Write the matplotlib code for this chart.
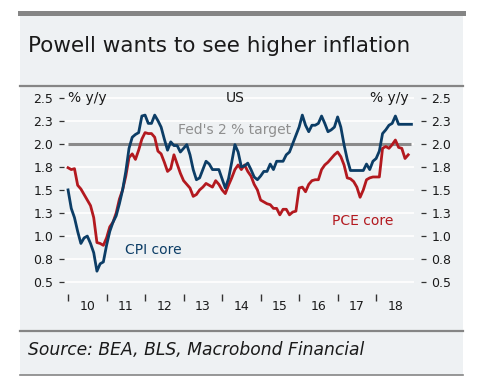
import numpy as np
import matplotlib
matplotlib.use("Agg")
import matplotlib.pyplot as plt
from matplotlib.patches import Rectangle
from matplotlib.lines import Line2D

# ------------------------------
# Data (monthly, Jan 2010 onwards, % y/y)
# ------------------------------
cpi_core = [
    1.50, 1.30, 1.20, 1.05, 0.92, 0.98, 1.00, 0.92, 0.82, 0.62, 0.70, 0.72,  # 2010
    0.90, 1.05, 1.15, 1.22, 1.35, 1.50, 1.70, 1.95, 2.07, 2.10, 2.12, 2.30,  # 2011
    2.31, 2.22, 2.22, 2.31, 2.25, 2.18, 2.05, 1.93, 2.02, 1.98, 1.98, 1.91,  # 2012
    1.95, 1.99, 1.88, 1.72, 1.61, 1.63, 1.72, 1.81, 1.78, 1.72, 1.72, 1.72,  # 2013
    1.62, 1.52, 1.62, 1.80, 1.99, 1.91, 1.75, 1.76, 1.79, 1.72, 1.64, 1.61,  # 2014
    1.65, 1.70, 1.70, 1.78, 1.72, 1.81, 1.81, 1.81, 1.88, 1.91, 2.00, 2.09,  # 2015
    2.18, 2.31, 2.20, 2.13, 2.20, 2.20, 2.22, 2.30, 2.22, 2.13, 2.15, 2.18,  # 2016
    2.29, 2.18, 1.99, 1.83, 1.71, 1.71, 1.71, 1.71, 1.71, 1.78, 1.72, 1.81,  # 2017
    1.84, 1.92, 2.11, 2.15, 2.20, 2.22, 2.30, 2.21, 2.21, 2.21, 2.21, 2.21,  # 2018
]
pce_core = [
    1.74, 1.72, 1.73, 1.55, 1.51, 1.45, 1.39, 1.33, 1.20, 0.93, 0.92, 0.90,  # 2010
    0.98, 1.10, 1.15, 1.25, 1.40, 1.50, 1.65, 1.85, 1.89, 1.83, 1.93, 2.05,  # 2011
    2.12, 2.11, 2.11, 2.07, 1.92, 1.89, 1.80, 1.70, 1.73, 1.88, 1.78, 1.68,  # 2012
    1.60, 1.56, 1.52, 1.43, 1.45, 1.50, 1.53, 1.57, 1.55, 1.53, 1.60, 1.56,  # 2013
    1.50, 1.46, 1.55, 1.63, 1.72, 1.77, 1.72, 1.77, 1.70, 1.65, 1.56, 1.50,  # 2014
    1.39, 1.37, 1.35, 1.34, 1.30, 1.30, 1.23, 1.29, 1.29, 1.23, 1.26, 1.27,  # 2015
    1.52, 1.53, 1.48, 1.56, 1.60, 1.61, 1.61, 1.72, 1.77, 1.80, 1.84, 1.88,  # 2016
    1.91, 1.86, 1.77, 1.63, 1.62, 1.59, 1.53, 1.42, 1.50, 1.61, 1.63, 1.64,  # 2017
    1.64, 1.64, 1.95, 1.97, 1.95, 1.99, 2.04, 1.96, 1.95, 1.84, 1.88,        # 2018
]
fed_target = 2.0
year_labels = ['10', '11', '12', '13', '14', '15', '16', '17', '18']
y_ticks = [0.5, 0.75, 1.0, 1.25, 1.5, 1.75, 2.0, 2.25, 2.5]
y_tick_labels = ['0.5', '0.8', '1.0', '1.3', '1.5', '1.8', '2.0', '2.3', '2.5']

# ------------------------------
# Style
# ------------------------------
plt.rcParams['font.family'] = ['DejaVu Sans']
bg = '#eef1f3'
frame_grey = '#858585'
blue = '#0c3d66'
red = '#b3191f'
text_col = '#1a1a1a'

W, H = 480, 390
fig = plt.figure(figsize=(4.8, 3.9), dpi=100)
fig.patch.set_facecolor('white')

def fx(px):
    return px / W

def fy(py):
    return 1 - py / H

# panel background and separator lines
fig.patches.append(Rectangle((fx(20), fy(375)), fx(443), 360 / H, transform=fig.transFigure,
                             facecolor=bg, edgecolor='none', zorder=0))
for ypix, lw in [(12.5, 3.6), (86, 1.6), (331, 1.6), (375, 1.2)]:
    fig.lines.append(Line2D([fx(20), fx(463)], [fy(ypix), fy(ypix)], transform=fig.transFigure,
                            color=frame_grey, linewidth=lw))

fig.text(fx(28), fy(46), 'Powell wants to see higher inflation', fontsize=15.5,
         color=text_col, va='center', ha='left')
fig.text(fx(28), fy(350), 'Source: BEA, BLS, Macrobond Financial', fontsize=12.3,
         style='italic', color=text_col, va='center', ha='left')

# ------------------------------
# Chart
# ------------------------------
ax = fig.add_axes([fx(65), fy(291.5), fx(414) - fx(65), (291.5 - 88.3) / H])
ax.set_zorder(2)
ax.set_facecolor(bg)
for s in ax.spines.values():
    s.set_visible(False)
ax.spines['left'].set_position(('outward', 1))
ax.spines['right'].set_position(('outward', 5))
ax.spines['bottom'].set_position(('outward', 2))

months_cpi = np.arange(len(cpi_core))
months_pce = np.arange(len(pce_core))

ax.set_ylim(0.4, 2.6)
ax.set_xlim(-0.95, 107.8)
ax.set_yticks(y_ticks)
ax.set_yticklabels(y_tick_labels)
ax.grid(axis='y', color='white', linewidth=1.2)
ax.set_axisbelow(True)

ax.hlines(fed_target, months_cpi[0], months_cpi[-1], color='#8a8a8a', linewidth=2.2, zorder=2)
ax.plot(months_pce, pce_core, color=red, linewidth=2.0, zorder=3)
ax.plot(months_cpi, cpi_core, color=blue, linewidth=2.0, zorder=4)

year_starts = np.arange(0, 12 * len(year_labels), 12)
ax.set_xticks(year_starts)
ax.set_xticklabels([])
ax.set_xticks(year_starts + 6, minor=True)
ax.set_xticklabels(year_labels, minor=True)
ax.tick_params(axis='x', which='major', length=5, width=1, color='#333333')
ax.tick_params(axis='x', which='minor', length=0, pad=4, labelsize=9, labelcolor=text_col)
ax.tick_params(axis='y', left=True, right=True, labelleft=True, labelright=True,
               length=3.5, width=0.9, color='#333333', labelsize=9, labelcolor=text_col, pad=4)

ax.text(0, 2.5, '% y/y', fontsize=10, color=text_col, ha='left', va='center')
ax.text(106, 2.5, '% y/y', fontsize=10, color=text_col, ha='right', va='center')
ax.text(52, 2.5, 'US', fontsize=10, color=text_col, ha='center', va='center')
ax.text(34.3, 2.15, "Fed's 2 % target", fontsize=10, color='#8f8f8f', ha='left', va='center')
ax.text(17.8, 0.85, 'CPI core', fontsize=10, color=blue, ha='left', va='center')
ax.text(82.2, 1.16, 'PCE core', fontsize=10, color=red, ha='left', va='center')

fig.savefig('out.png', dpi=100, facecolor=fig.get_facecolor())
